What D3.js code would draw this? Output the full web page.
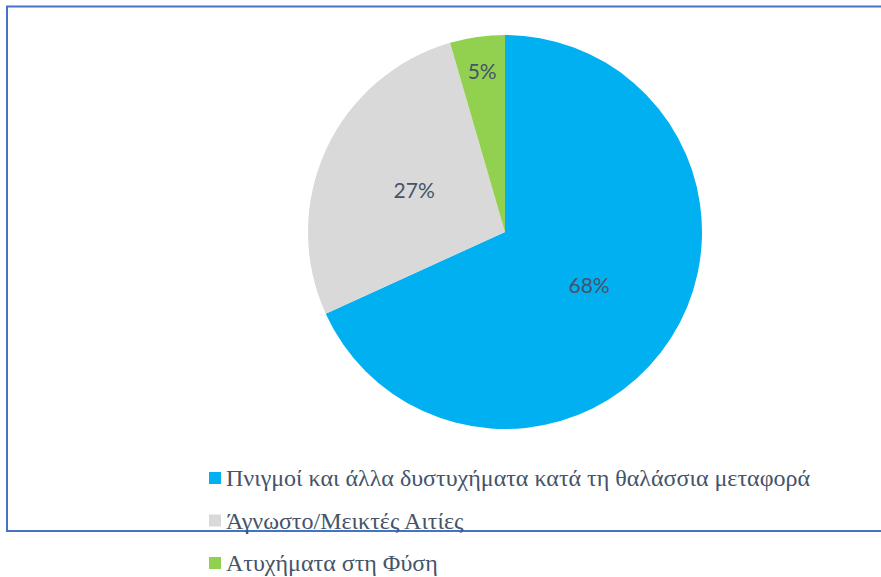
<!DOCTYPE html>
<html>
<head>
<meta charset="utf-8">
<script src="https://cdn.jsdelivr.net/npm/d3@7"></script>
<style>
  body { margin: 0; background: #fff; }
</style>
</head>
<body>
<svg id="pieChart"></svg>
<script>
// Data
const categories = [
    "Πνιγμοί και άλλα δυστυχήματα κατά τη θαλάσσια μεταφορά",
    "Άγνωστο/Μεικτές Αιτίες",
    "Ατυχήματα στη Φύση"
];
// shares; labels show them rounded
const shares = [68.2, 27.3, 4.5];
const sliceColors = ["#00B0F0", "#D9D9D9", "#92D050"];

const width = 881, height = 577;
const cx = 505, cy = 232, radius = 197;

const svg = d3.select("#pieChart")
    .attr("width", width)
    .attr("height", height);

// Frame (left, top, bottom edges visible)
svg.append("path")
    .attr("d", `M${width},6.5 H7 V531 H${width}`)
    .attr("fill", "none")
    .attr("stroke", "#4472C4")
    .attr("stroke-width", 2);

const data = categories.map((c, i) => ({name: c, value: shares[i], color: sliceColors[i]}));

const pie = d3.pie()
    .value(d => d.value)
    .sort(null);

const arcs = pie(data);

const arc = d3.arc()
    .innerRadius(0)
    .outerRadius(radius);

// label distance from centre, per slice (Excel best fit)
const labelRadius = [100, 100, 162];

const g = svg.append("g")
    .attr("transform", `translate(${cx},${cy})`);

g.selectAll("path.slice")
    .data(arcs)
    .enter()
    .append("path")
    .attr("class", "slice")
    .attr("d", arc)
    .attr("fill", d => d.data.color);

g.selectAll("text.label")
    .data(arcs)
    .enter()
    .append("text")
    .attr("class", "label")
    .attr("transform", (d, i) => {
        const a = (d.startAngle + d.endAngle) / 2;
        return `translate(${Math.sin(a) * labelRadius[i]},${-Math.cos(a) * labelRadius[i]})`;
    })
    .attr("text-anchor", "middle")
    .attr("dy", "0.35em")
    .attr("font-family", "Lato, 'Open Sans', sans-serif")
    .attr("font-size", 21)
    .attr("fill", "#44546A")
    .text(d => Math.round(d.data.value) + "%");

// Legend
const legend = svg.selectAll(".legend")
    .data(data)
    .enter()
    .append("g")
    .attr("class", "legend")
    .attr("transform", (d, i) => `translate(209,${478 + i * 42.5})`);

legend.append("rect")
    .attr("x", 0)
    .attr("y", -6)
    .attr("width", 12)
    .attr("height", 12)
    .attr("fill", d => d.color);

legend.append("text")
    .attr("x", 17)
    .attr("y", 0)
    .attr("dy", "0.35em")
    .attr("font-family", "'Liberation Serif', 'Times New Roman', serif")
    .attr("font-size", 24)
    .attr("fill", "#44546A")
    .text(d => d.name);
</script>
</body>
</html>
